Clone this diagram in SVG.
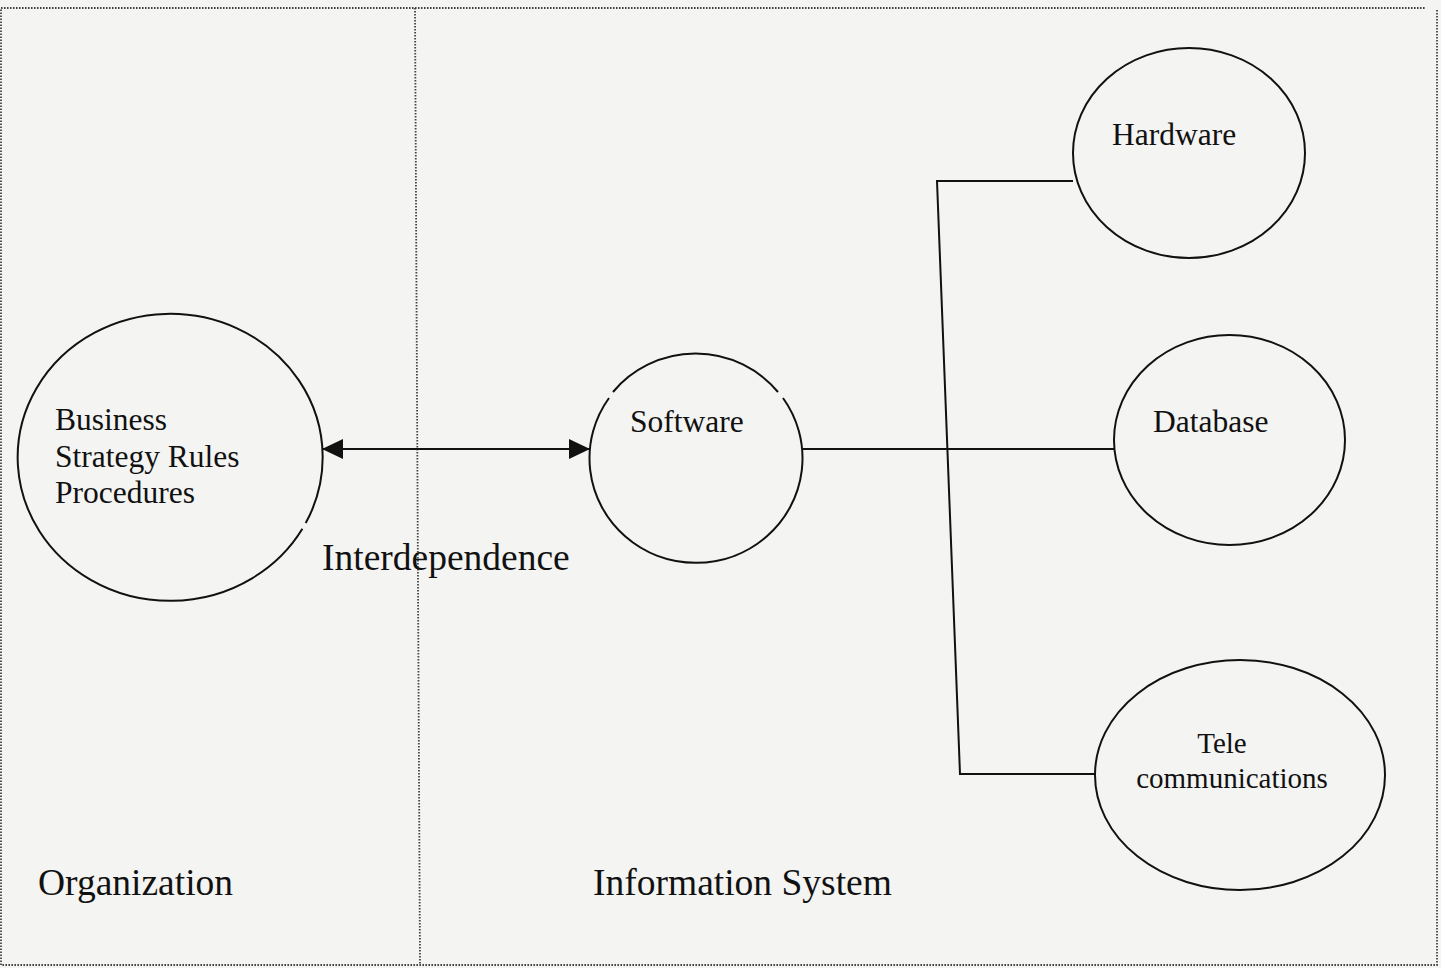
<svg xmlns="http://www.w3.org/2000/svg" width="1441" height="968" viewBox="0 0 1441 968">
  <style>
    .frame { fill: none; stroke: #444; stroke-width: 1.8; stroke-dasharray: 1.6 1.4; }
    .shape { fill: none; stroke: #111; stroke-width: 2; }
    .wire { fill: none; stroke: #111; stroke-width: 2; }
    .lbl { font-family: "Liberation Serif", "Times New Roman", serif; fill: #111; font-size: 31.5px; }
    .big { font-family: "Liberation Serif", "Times New Roman", serif; fill: #111; font-size: 37.5px; }
  </style>
  <defs>
    <marker id="head" markerUnits="userSpaceOnUse" markerWidth="22" markerHeight="22" viewBox="0 0 22 22" refX="21" refY="11" orient="auto-start-reverse">
      <path d="M0,1 L21,11 L0,21 Z" fill="#111"/>
    </marker>
  </defs>

  <!-- paper -->
  <rect x="0" y="0" width="1441" height="968" fill="#f4f4f3"/>

  <!-- dotted outer frame and section divider -->
  <g id="frame">
    <path class="frame" d="M1,8 H1426 M1437,10 V965 H1 V8"/>
    <path class="frame" d="M415,8 L420,965"/>
  </g>

  <!-- connectors -->
  <g id="connectors">
    <line class="wire" x1="322" y1="449" x2="590" y2="449" marker-start="url(#head)" marker-end="url(#head)"/>
    <line class="wire" x1="803" y1="449" x2="1114" y2="449"/>
    <path class="wire" d="M1073,181 H937 L960,774 H1095"/>
  </g>

  <!-- Organization side -->
  <g id="business">
    <path class="shape" d="M305.7,523.1 A152.5 143.5 0 1 0 302.4,528.8"/>
    <text class="lbl" x="55" y="430">Business</text>
    <text class="lbl" x="55" y="467">Strategy Rules</text>
    <text class="lbl" x="55" y="503">Procedures</text>
  </g>

  <!-- Information system side -->
  <g id="software">
    <path class="shape" d="M613,392 A106.5 104.5 0 0 1 778,392 M783,398 A106.5 104.5 0 1 1 609,398"/>
    <text class="lbl" x="630" y="432">Software</text>
  </g>

  <g id="hardware">
    <ellipse class="shape" cx="1189" cy="153" rx="116" ry="105"/>
    <text class="lbl" x="1112" y="145">Hardware</text>
  </g>

  <g id="database">
    <ellipse class="shape" cx="1229.5" cy="440" rx="115.5" ry="105"/>
    <text class="lbl" x="1153" y="432">Database</text>
  </g>

  <g id="telecom">
    <ellipse class="shape" cx="1240" cy="775" rx="145" ry="115"/>
    <text class="lbl" x="1222" y="753" text-anchor="middle" style="font-size:29px">Tele</text>
    <text class="lbl" x="1232" y="788" text-anchor="middle" style="font-size:29px">communications</text>
  </g>

  <!-- section captions -->
  <g id="captions">
    <text class="big" x="322" y="570">Interdependence</text>
    <text class="big" x="38" y="895">Organization</text>
    <text class="big" x="593" y="895">Information System</text>
  </g>
</svg>
